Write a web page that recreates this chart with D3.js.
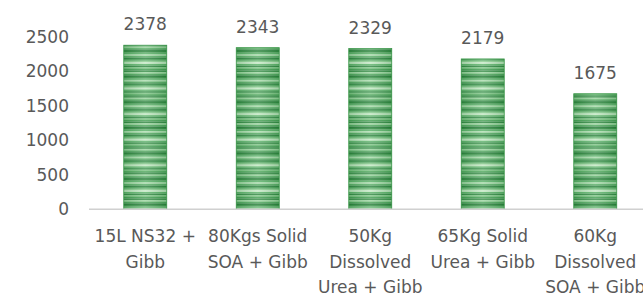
<!DOCTYPE html>
<html>
<head>
<meta charset="utf-8">
<script src="https://cdn.jsdelivr.net/npm/d3@7"></script>
<style>
  html, body { margin: 0; padding: 0; background: #fff; overflow: hidden; }
  svg { display: block; }
  text { font-family: "DejaVu Sans", sans-serif; fill: #595959; }
</style>
</head>
<body>
<svg id="chart"></svg>
<script>
/* ---------- data ---------- */

const categories = [
  ["15L NS32 +", "Gibb"],
  ["80Kgs Solid", "SOA + Gibb"],
  ["50Kg", "Dissolved", "Urea + Gibb"],
  ["65Kg Solid", "Urea + Gibb"],
  ["60Kg", "Dissolved", "SOA + Gibb"]
];
const values = [2378, 2343, 2329, 2179, 1675];
const y_ticks = [0, 500, 1000, 1500, 2000, 2500];

/* ---------- setup ---------- */

const width = 643;
const height = 295;

const svg = d3.select("#chart")
  .attr("width", width)
  .attr("height", height);

// x band runs past the right edge, the picture is cropped there
const x = d3.scaleBand()
  .domain(d3.range(values.length))
  .range([89, 651.5])
  .paddingInner(0.618)
  .paddingOuter(0.309);

const y = d3.scaleLinear()
  .domain([0, 2500])
  .range([209.3, 36.8]);

/* ---------- striped green fill ---------- */

const defs = svg.append("defs");
const stripe_colors = ["#2f8a3f", "#56b065", "#a9dcab", "#4fa85e", "#27803a",
  "#3c9a4c", "#8fcf93", "#c3e8c3", "#5cb46a", "#2b843d", "#76c27d", "#3f9d4f",
  "#2a833c", "#9ad59d", "#4aa659", "#237b35"];
const stripe_h = 1.6;

const pat = defs.append("pattern")
  .attr("id", "stripes")
  .attr("patternUnits", "userSpaceOnUse")
  .attr("width", 10)
  .attr("height", stripe_colors.length * stripe_h);

pat.selectAll("rect")
  .data(stripe_colors)
  .join("rect")
  .attr("x", 0)
  .attr("y", (d, i) => i * stripe_h)
  .attr("width", 10)
  .attr("height", stripe_h + 0.05)
  .attr("fill", d => d);

const sheen = defs.append("linearGradient")
  .attr("id", "sheen")
  .attr("x1", "0").attr("x2", "1").attr("y1", "0").attr("y2", "0");
sheen.append("stop").attr("offset", "0%").attr("stop-color", "#1e6b2c").attr("stop-opacity", 0.25);
sheen.append("stop").attr("offset", "50%").attr("stop-color", "#ffffff").attr("stop-opacity", 0.18);
sheen.append("stop").attr("offset", "100%").attr("stop-color", "#1e6b2c").attr("stop-opacity", 0.25);

/* ---------- axes ---------- */

svg.append("g")
  .selectAll("text")
  .data(y_ticks)
  .join("text")
  .attr("x", 69)
  .attr("y", d => y(d))
  .attr("dy", "0.36em")
  .attr("text-anchor", "end")
  .attr("font-size", 17)
  .text(d => d);

/* ---------- bars ---------- */

const bars = svg.append("g");

bars.selectAll("rect.bar")
  .data(values)
  .join("rect")
  .attr("class", "bar")
  .attr("x", (d, i) => x(i))
  .attr("y", d => y(d))
  .attr("width", x.bandwidth())
  .attr("height", d => y(0) - y(d))
  .attr("fill", "url(#stripes)")
  .attr("stroke", "#3d9a4c")
  .attr("stroke-width", 0.8);

bars.selectAll("rect.sheen")
  .data(values)
  .join("rect")
  .attr("class", "sheen")
  .attr("x", (d, i) => x(i))
  .attr("y", d => y(d))
  .attr("width", x.bandwidth())
  .attr("height", d => y(0) - y(d))
  .attr("fill", "url(#sheen)");

svg.append("line")
  .attr("x1", x.range()[0])
  .attr("x2", width)
  .attr("y1", y(0))
  .attr("y2", y(0))
  .attr("stroke", "#d0d0d0")
  .attr("stroke-width", 1.5);

/* ---------- labels ---------- */

svg.append("g")
  .selectAll("text")
  .data(values)
  .join("text")
  .attr("x", (d, i) => x(i) + x.bandwidth() / 2)
  .attr("y", d => y(d) - 15)
  .attr("text-anchor", "middle")
  .attr("font-size", 17)
  .text(d => d);

const cat = svg.append("g")
  .selectAll("text")
  .data(categories)
  .join("text")
  .attr("x", (d, i) => x(i) + x.bandwidth() / 2)
  .attr("y", 242)
  .attr("text-anchor", "middle")
  .attr("font-size", 17);

cat.selectAll("tspan")
  .data(d => d)
  .join("tspan")
  .attr("x", function() { return d3.select(this.parentNode).attr("x"); })
  .attr("y", (d, i) => 242 + i * 25.5)
  .text(d => d);
</script>
</body>
</html>
